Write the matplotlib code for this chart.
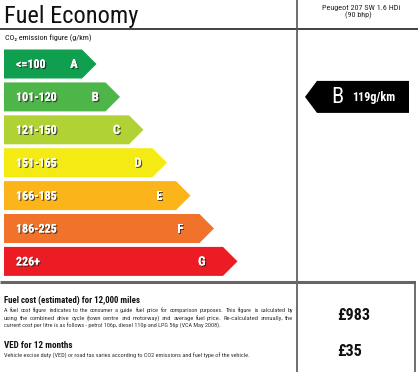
import matplotlib
matplotlib.use("Agg")
import matplotlib.pyplot as plt
from matplotlib.patches import Polygon
import matplotlib.patheffects as pe

# ---- data ----
bands = ['<=100', '101-120', '121-150', '151-165', '166-185', '186-225', '226+']
letters = ['A', 'B', 'C', 'D', 'E', 'F', 'G']
band_colors = ['#0f9f4f', '#4eb648', '#b1d235', '#f4ea14', '#fbb51b', '#f1722a', '#ec1c24']
rating = 'B'
co2_value = 119
car_name = 'Peugeot 207 SW 1.6 HDi'
car_power = '(90 bhp)'
fuel_cost = 983
ved_cost = 35
title = 'Fuel Economy'
subtitle = 'CO\u2082 emission figure (g/km)'
cost_heading = 'Fuel cost (estimated) for 12,000 miles'
cost_lines = [
    'A fuel cost figure indicates to the consumer a guide fuel price for comparison purposes. This figure is calculated by',
    'using the combined drive cycle (town centre and motorway) and average fuel price. Re-calculated annually, the',
    'current cost per litre is as follows - petrol 106p, diesel 110p and LPG 56p (VCA May 2008).',
]
ved_heading = 'VED for 12 months'
ved_line = 'Vehicle excise duty (VED) or road tax varies according to CO2 emissions and fuel type of the vehicle.'

FONT = ['Roboto Condensed', 'PT Sans Narrow', 'Liberation Sans', 'DejaVu Sans']
W, H = 418, 372

fig = plt.figure(figsize=(W / 100, H / 100), dpi=100)
ax = fig.add_axes([0, 0, 1, 1])
ax.set_xlim(0, W)
ax.set_ylim(H, 0)
ax.axis('off')
renderer = fig.canvas.get_renderer()


def fit(t, width):
    """Scale the font size of text t so its rendered width matches width (px)."""
    w = t.get_window_extent(renderer).width
    t.set_fontsize(t.get_fontsize() * width / w)
    return t


# ---- frame lines ----
ax.plot([0, W], [29, 29], color='#222222', lw=1.2, solid_capstyle='butt')
ax.plot([297, 297], [0, H], color='#555555', lw=1.2, solid_capstyle='butt')
ax.plot([0, 415], [281.5, 281.5], color='#666666', lw=2.2, solid_capstyle='butt')
ax.plot([415, 415], [281, H], color='#555555', lw=1.2, solid_capstyle='butt')

# ---- header texts ----
fit(ax.text(4, 22.5, title, family=FONT, fontsize=18, color='#111111',
            va='baseline', ha='left'), 134)
fit(ax.text(5, 38, subtitle, family=FONT, fontsize=5.5, color='#111111', va='center', ha='left'), 86)
fit(ax.text(361.5, 8, car_name, family=FONT, fontsize=5, color='#222222', va='center', ha='center'), 79)
fit(ax.text(358.5, 15.5, car_power, family=FONT, fontsize=5, color='#222222', va='center', ha='center'), 27)

# ---- band arrows ----
shadow = [pe.withSimplePatchShadow(offset=(0.9, -0.9), shadow_rgbFace='#222222', alpha=0.75), pe.Normal()]
probe = ax.text(0, 0, bands[1], family=FONT, fontsize=10, fontweight='bold')
fit(probe, 41)
band_size = probe.get_fontsize()
probe.remove()

x0 = 4
top0, pitch, bh = 49.5, 32.9, 29
tip0, step = 96.5, 23.5
for i, (band, let, col) in enumerate(zip(bands, letters, band_colors)):
    top = top0 + pitch * i
    bot = top + bh
    tip = tip0 + step * i
    depth = bh / 2
    poly = Polygon([(x0, top), (tip - depth, top), (tip, top + bh / 2),
                    (tip - depth, bot), (x0, bot)], closed=True,
                   facecolor=col, edgecolor='none')
    ax.add_patch(poly)
    ax.text(16, top + bh / 2 + 0.5, band, family=FONT, fontsize=band_size, fontweight='bold',
            color='white', va='center', ha='left', path_effects=shadow)
    ax.text(74 + 21.3 * i, top + bh / 2 + 0.5, let, family=FONT, fontsize=band_size * 1.05,
            fontweight='bold', color='white', va='center', ha='center', path_effects=shadow)

# ---- rating arrow ----
ri = letters.index(rating)
cy = top0 + pitch * ri + bh / 2
ah = 32
atip, aright = 305, 409
ax.add_patch(Polygon([(atip, cy), (atip + ah / 2 - 4, cy - ah / 2), (aright, cy - ah / 2),
                      (aright, cy + ah / 2), (atip + ah / 2 - 4, cy + ah / 2)], closed=True,
                     facecolor='black', edgecolor='none'))
ax.text(337, cy + 0.5, rating, family=FONT, fontsize=16, color='white', va='center', ha='center')
fit(ax.text(352, cy + 0.5, f'{co2_value}g/km', family=FONT, fontsize=7.5, fontweight='bold',
            color='white', va='center', ha='left'), 43)

# ---- bottom section ----
fit(ax.text(4, 300, cost_heading, family=FONT, fontsize=7.2, fontweight='bold', color='#111111',
            va='center', ha='left'), 137)
fit(ax.text(4, 346, ved_heading, family=FONT, fontsize=7.6, fontweight='bold', color='#111111',
            va='center', ha='left'), 68)
fit(ax.text(337, 315, f'\u00a3{fuel_cost}', family=FONT, fontsize=10, fontweight='bold', color='#111111',
            va='center', ha='left'), 33)
fit(ax.text(337, 352, f'\u00a3{ved_cost}', family=FONT, fontsize=10, fontweight='bold', color='#111111',
            va='center', ha='left'), 25)


def justified(line, y, left, right):
    probe_t = fit(ax.text(0, 0, line, family=FONT, fontsize=5), right - left - 3)
    size = probe_t.get_fontsize()
    probe_t.remove()
    words = line.split(' ')
    objs = [ax.text(left, y, w, family=FONT, fontsize=size, color='#333333',
                    va='baseline', ha='left') for w in words]
    widths = [o.get_window_extent(renderer).width for o in objs]
    gap = (right - left - sum(widths)) / (len(words) - 1)
    x = left
    for o, w in zip(objs, widths):
        o.set_x(x)
        x += w + gap


line_y = [312, 320, 328]
justified(cost_lines[0], line_y[0], 4, 293)
justified(cost_lines[1], line_y[1], 4, 293)
fit(ax.text(4, line_y[2], cost_lines[2], family=FONT, fontsize=4.6, color='#333333',
            va='baseline', ha='left'), 219)
fit(ax.text(4, 358, ved_line, family=FONT, fontsize=4.6, color='#333333',
            va='baseline', ha='left'), 243)

fig.savefig('out.png', dpi=100)
